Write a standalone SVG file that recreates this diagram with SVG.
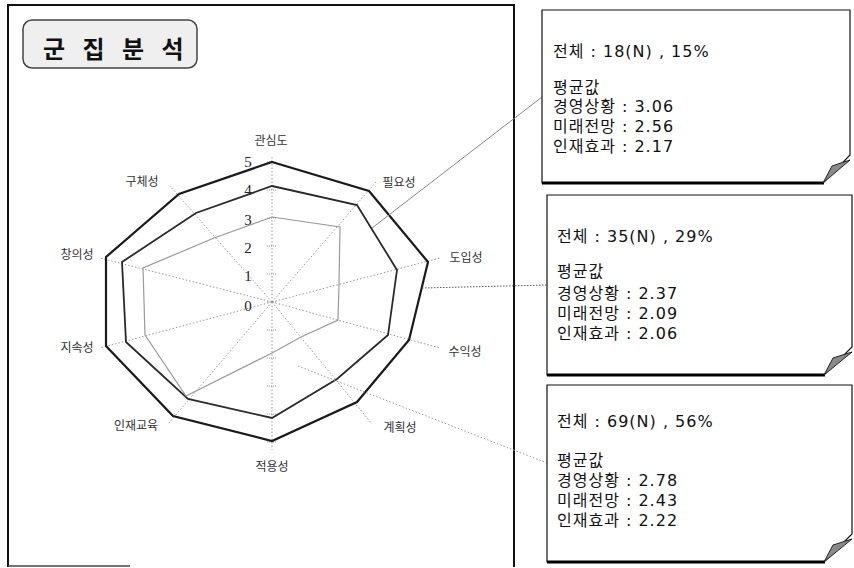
<svg xmlns="http://www.w3.org/2000/svg" width="854" height="568" viewBox="0 0 854 568">
<style>
.frame{fill:none;stroke:#111;stroke-width:2}
.axis{fill:none;stroke:#999;stroke-width:1;stroke-dasharray:1.5 2}
.tick{stroke:#999;stroke-width:1;stroke-dasharray:1 1}
.lbl{font-family:"Noto Sans CJK KR","Noto Sans",sans-serif;font-size:12px;fill:#333;text-anchor:middle}
.num{font-family:"Liberation Serif",serif;font-size:15px;fill:#222;text-anchor:middle}
.sA{fill:none;stroke:#1a1a1a;stroke-width:2.2;stroke-linejoin:miter}
.sB{fill:none;stroke:#2a2a2a;stroke-width:1.8}
.sC{fill:none;stroke:#9a9a9a;stroke-width:1.2}
.note{fill:#fff;stroke:#111;stroke-width:1.2}
.shadow{stroke:#000;stroke-width:3}
.fold{fill:#8a8a8a;stroke:#222;stroke-width:1}
.txt{font-family:"DejaVu Sans","Noto Sans CJK KR",sans-serif;font-size:16px;letter-spacing:1px;fill:#111}
.title{font-family:"Noto Sans CJK KR",sans-serif;font-size:24px;font-weight:bold;fill:#111}
</style>
<rect width="854" height="568" fill="#fff"/>
<g id="frame">
<path class="frame" d="M8,567 V5 H514 V567"/>
<line x1="8" y1="566" x2="130" y2="566" stroke="#444" stroke-width="1.5"/>
</g>
<g id="title">
<rect x="23" y="20" width="174" height="48" rx="9" fill="#efefef" stroke="#444" stroke-width="1.5"/>
<text class="title" x="43" y="58" letter-spacing="6">군 집 분 석</text>
</g>
<g id="radar">
<g id="grid">
<line class="axis" x1="272" y1="302" x2="272" y2="155"/>
<line class="axis" x1="272" y1="302" x2="376" y2="182"/>
<line class="axis" x1="272" y1="302" x2="440" y2="258"/>
<line class="axis" x1="272" y1="302" x2="440" y2="348"/>
<line class="axis" x1="272" y1="302" x2="372" y2="424"/>
<line class="axis" x1="272" y1="302" x2="272" y2="450"/>
<line class="axis" x1="272" y1="302" x2="168" y2="424"/>
<line class="axis" x1="272" y1="302" x2="100" y2="348"/>
<line class="axis" x1="272" y1="302" x2="100" y2="258"/>
<line class="axis" x1="272" y1="302" x2="170" y2="186"/>
<path class="tick" d="M267,162H277M267,190H277M267,218H277M267,246H277M267,274H277M267,302H277M267,330H277M267,358H277M267,386H277M267,414H277M267,442H277"/>
</g>
<g id="scale">
<text class="num" x="248" y="167">5</text>
<text class="num" x="248" y="195">4</text>
<text class="num" x="248" y="225">3</text>
<text class="num" x="248" y="253">2</text>
<text class="num" x="248" y="281">1</text>
<text class="num" x="248" y="311">0</text>
</g>
<g id="series">
<polygon id="cluster-a" class="sA" points="272,162 369,191 428,262 409,340 357,402 272,441 173,416 106,346 106,257 179,194"/>
<polygon id="cluster-b" class="sB" points="272,186 357,205 397,270 388,335 337,379 272,418 188,399 126,342 122,262 196,213"/>
<polygon id="cluster-c" class="sC" points="272,217 340,227 339,285 338,320 301,337 272,353 186,396 145,335 143,268 214,238"/>
</g>
<g id="axis-labels">
<text class="lbl" x="271" y="145">관심도</text>
<text class="lbl" x="399" y="187">필요성</text>
<text class="lbl" x="466" y="262">도입성</text>
<text class="lbl" x="465" y="356">수익성</text>
<text class="lbl" x="400" y="432">계획성</text>
<text class="lbl" x="272" y="471">적용성</text>
<text class="lbl" x="136" y="430">인재교육</text>
<text class="lbl" x="77" y="352">지속성</text>
<text class="lbl" x="77" y="259">창의성</text>
<text class="lbl" x="142" y="186">구체성</text>
</g>
</g>
<g id="connectors">
<line x1="372" y1="228" x2="542" y2="97" stroke="#888" stroke-width="1"/>
<line x1="422" y1="288" x2="547" y2="285" stroke="#555" stroke-width="1" stroke-dasharray="1.5 1.5"/>
<line x1="298" y1="366" x2="547" y2="463" stroke="#999" stroke-width="1" stroke-dasharray="1.5 2"/>
</g>
<g id="note-1">
<path class="note" d="M542,10 H850 V155 L823,183 H542 Z"/>
<line class="shadow" x1="542" y1="183" x2="824" y2="183"/>
<path class="fold" d="M823,183 L850,160 L832,166 Z"/>
<text class="txt" x="553" y="57">전체 : 18(N) , 15%</text>
<text class="txt" x="553" y="93">평균값</text>
<text class="txt" x="553" y="112">경영상황 : 3.06</text>
<text class="txt" x="553" y="132">미래전망 : 2.56</text>
<text class="txt" x="553" y="152">인재효과 : 2.17</text>
</g>
<g id="note-2">
<path class="note" d="M547,195 H852 V347 L824,375 H547 Z"/>
<line class="shadow" x1="547" y1="375" x2="825" y2="375"/>
<path class="fold" d="M824,375 L852,352 L833,358 Z"/>
<text class="txt" x="557" y="242">전체 : 35(N) , 29%</text>
<text class="txt" x="557" y="277">평균값</text>
<text class="txt" x="557" y="299">경영상황 : 2.37</text>
<text class="txt" x="557" y="319">미래전망 : 2.09</text>
<text class="txt" x="557" y="339">인재효과 : 2.06</text>
</g>
<g id="note-3">
<path class="note" d="M547,385 H852 V534 L824,562 H547 Z"/>
<line class="shadow" x1="547" y1="562" x2="825" y2="562"/>
<path class="fold" d="M824,562 L852,539 L833,545 Z"/>
<text class="txt" x="557" y="427">전체 : 69(N) , 56%</text>
<text class="txt" x="557" y="466">평균값</text>
<text class="txt" x="557" y="486">경영상황 : 2.78</text>
<text class="txt" x="557" y="506">미래전망 : 2.43</text>
<text class="txt" x="557" y="526">인재효과 : 2.22</text>
</g>
</svg>
